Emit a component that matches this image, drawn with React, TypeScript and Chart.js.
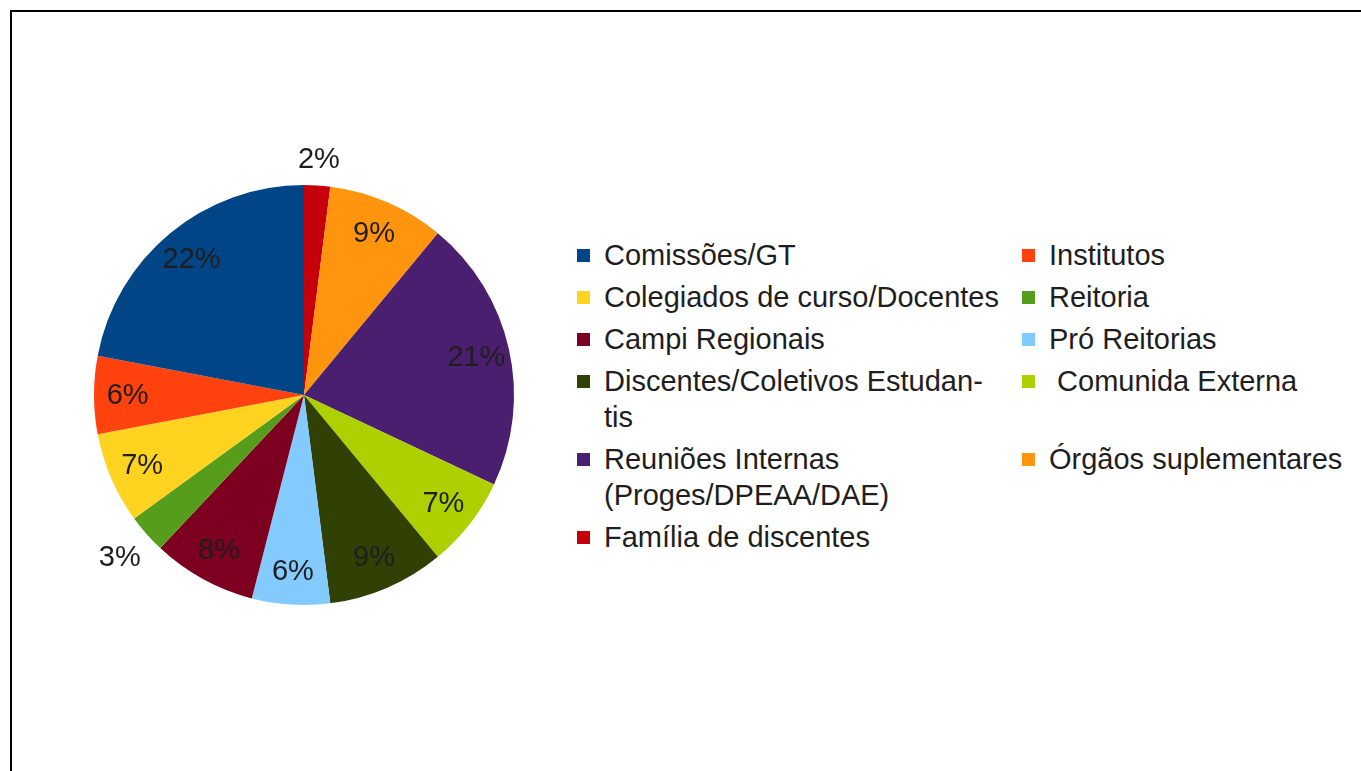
import React, { useEffect, useRef } from "react";
import { Chart, registerables } from "chart.js";

Chart.register(...registerables);

// Legend order (row-major in the two-column legend)
const categories = [
  "Comissões/GT",
  "Institutos",
  "Colegiados de curso/Docentes",
  "Reitoria",
  "Campi Regionais",
  "Pró Reitorias",
  "Discentes/Coletivos Estudantis",
  " Comunida Externa",
  "Reuniões Internas (Proges/DPEAA/DAE)",
  "Órgãos suplementares",
  "Família de discentes",
];

const values = [22, 6, 7, 3, 8, 6, 9, 7, 21, 9, 2];

const colors = [
  "#004586",
  "#ff420e",
  "#ffd320",
  "#579d1c",
  "#7e0021",
  "#83caff",
  "#314004",
  "#aecf00",
  "#4b1f6f",
  "#ff950e",
  "#c5000b",
];

// How legend entries wrap in the picture
const legendLines: Record<string, string[]> = {
  "Discentes/Coletivos Estudantis": ["Discentes/Coletivos Estudan-", "tis"],
  "Reuniões Internas (Proges/DPEAA/DAE)": ["Reuniões Internas", "(Proges/DPEAA/DAE)"],
};

const FONT = '"Liberation Sans", Arial, sans-serif';

const labelPlugin = {
  id: "pctLabels",
  afterDatasetsDraw(chart: any) {
    const ctx = chart.ctx;
    const meta = chart.getDatasetMeta(0);
    const data = chart.data.datasets[0].data as number[];
    const total = data.reduce((a, b) => a + b, 0);
    ctx.save();
    ctx.font = `29px ${FONT}`;
    ctx.fillStyle = "#1e1e1e";
    ctx.textAlign = "center";
    ctx.textBaseline = "middle";
    meta.data.forEach((arc: any, i: number) => {
      const { x, y, startAngle, endAngle, outerRadius } = arc.getProps(
        ["x", "y", "startAngle", "endAngle", "outerRadius"],
        true
      );
      const mid = (startAngle + endAngle) / 2;
      const pct = Math.round((data[i] / total) * 100);
      const text = pct + "%";
      const dx = Math.cos(mid);
      const dy = Math.sin(mid);
      let r: number;
      if (pct < 5) {
        const w = ctx.measureText(text).width / 2;
        const h = 15;
        r = outerRadius + 10 + Math.abs(dx) * w + Math.abs(dy) * h;
      } else {
        r = outerRadius * 0.84;
      }
      ctx.fillText(text, x + dx * r, y + dy * r + 1);
    });
    ctx.restore();
  },
};

export default function App() {
  const ref = useRef<HTMLCanvasElement | null>(null);

  useEffect(() => {
    if (!ref.current) return;
    // pie is drawn clockwise from the top, i.e. reverse of legend order
    const labs = [...categories].reverse();
    const vals = [...values].reverse();
    const cols = [...colors].reverse();
    const chart = new Chart(ref.current, {
      type: "pie",
      data: {
        labels: labs,
        datasets: [
          {
            data: vals,
            backgroundColor: cols,
            borderWidth: 0,
          },
        ],
      },
      options: {
        animation: false,
        responsive: false,
        maintainAspectRatio: false,
        layout: { padding: 60 },
        plugins: {
          legend: { display: false },
          tooltip: { enabled: false },
        },
      },
      plugins: [labelPlugin],
    });
    return () => chart.destroy();
  }, []);

  const rows: number[][] = [];
  for (let i = 0; i < categories.length; i += 2) {
    rows.push(categories.slice(i, i + 2).map((_, k) => i + k));
  }

  return (
    <div
      style={{
        position: "fixed",
        left: 0,
        top: 0,
        width: 1361,
        height: 771,
        background: "#fff",
        overflow: "hidden",
        fontFamily: FONT,
      }}
    >
      <div
        style={{
          position: "absolute",
          left: 10,
          top: 10,
          width: 1400,
          height: 800,
          borderLeft: "2px solid #000",
          borderTop: "2px solid #000",
        }}
      />
      <canvas
        ref={ref}
        width={540}
        height={540}
        style={{ position: "absolute", left: 34, top: 125, width: 540, height: 540 }}
      />
      <div style={{ position: "absolute", left: 577, top: 237 }}>
        {rows.map((row, ri) => (
          <div key={ri} style={{ display: "flex", marginBottom: 6 }}>
            {row.map((idx, ci) => {
              const name = categories[idx];
              const lines = legendLines[name] || [name];
              return (
                <div
                  key={idx}
                  style={{
                    width: ci === 0 ? 445 : 320,
                    display: "flex",
                    alignItems: "flex-start",
                  }}
                >
                  <div
                    style={{
                      width: 13,
                      height: 13,
                      background: colors[idx],
                      marginTop: 12,
                      marginRight: 14,
                      flex: "none",
                    }}
                  />
                  <div
                    style={{
                      fontSize: 29,
                      lineHeight: "36px",
                      color: "#1e1e1e",
                      whiteSpace: "pre",
                    }}
                  >
                    {lines.map((l, li) => (
                      <div key={li}>{l}</div>
                    ))}
                  </div>
                </div>
              );
            })}
          </div>
        ))}
      </div>
    </div>
  );
}
